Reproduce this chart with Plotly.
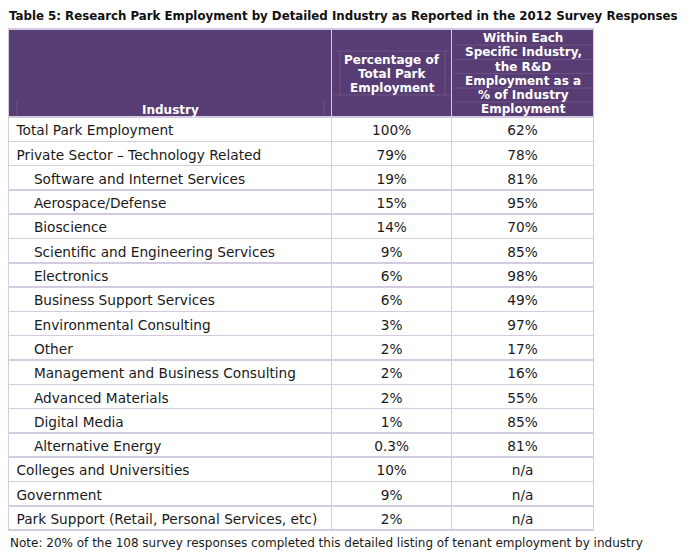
import plotly.graph_objects as go

# page body has an 8px margin; figure occupies screen (8..690, 8..560)
OFF = 8
W, H = 690 - OFF, 560 - OFF

title = "Table 5: Research Park Employment by Detailed Industry as Reported in the 2012 Survey Responses"
note = "Note: 20% of the 108 survey responses completed this detailed listing of tenant employment by industry"

hdr_industry = ["Industry"]
hdr_pct_total = ["Percentage of", "Total Park", "Employment"]
hdr_pct_rd = ["Within Each", "Specific Industry,", "the R&D", "Employment as a",
              "% of Industry", "Employment"]

industries = [
    "Total Park Employment",
    "Private Sector – Technology Related",
    "Software and Internet Services",
    "Aerospace/Defense",
    "Bioscience",
    "Scientific and Engineering Services",
    "Electronics",
    "Business Support Services",
    "Environmental Consulting",
    "Other",
    "Management and Business Consulting",
    "Advanced Materials",
    "Digital Media",
    "Alternative Energy",
    "Colleges and Universities",
    "Government",
    "Park Support (Retail, Personal Services, etc)",
]
indent_level = [0, 0, 1, 1, 1, 1, 1, 1, 1, 1, 1, 1, 1, 1, 0, 0, 0]
pct_total = ["100%", "79%", "19%", "15%", "14%", "9%", "6%", "6%", "3%", "2%",
             "2%", "2%", "1%", "0.3%", "10%", "9%", "2%"]
pct_rd = ["62%", "78%", "81%", "95%", "70%", "85%", "98%", "49%", "97%", "17%",
          "16%", "55%", "85%", "81%", "n/a", "n/a", "n/a"]

purple = "rgb(88,61,117)"
line_col = "rgb(212,203,225)"
faint = "rgba(255,255,255,0.11)"
font_fam = "Verdana, DejaVu Sans, sans-serif"

# screen coordinates of the table
x0, xc1, xc2, x1 = 8.5, 332, 452, 594
top = 29
header_h = 88
row_h = 24.3

labels = [("\u00a0" * 4 if lv else "") + name for name, lv in zip(industries, indent_level)]

fig = go.Figure(go.Table(
    domain=dict(x=[(x0 - OFF) / W, (x1 - OFF) / W], y=[0, 1 - (top - OFF) / H]),
    columnwidth=[xc1 - x0, xc2 - xc1, x1 - xc2],
    header=dict(
        values=["", "", ""],
        fill_color=purple,
        line=dict(color=line_col, width=1.5),
        height=header_h,
        font=dict(size=12, color="white", family=font_fam),
    ),
    cells=dict(
        values=[labels, pct_total, pct_rd],
        align=["left", "center", "center"],
        fill_color="white",
        line=dict(color=line_col, width=1.5),
        height=row_h,
        font=dict(size=13.7, color="#1a1a1a", family=font_fam),
    ),
))

anns = []
anns.append(dict(x=OFF, y=OFF, text="<b>" + title + "</b>", xanchor="left", yanchor="top",
                 borderpad=0, font=dict(size=11.8, color="#111111", family=font_fam)))
anns.append(dict(x=OFF, y=543, text=note, xanchor="left", yanchor="middle",
                 font=dict(size=12, color="#1a1a1a", family=font_fam)))

hfont = dict(size=12, color="white", family=font_fam)
for txt, yy in zip(hdr_industry, [109.5]):
    anns.append(dict(x=(x0 + xc1) / 2, y=yy, text="<b>" + txt + "</b>", font=hfont))
for txt, yy in zip(hdr_pct_total, [59.5, 74, 88]):
    anns.append(dict(x=(xc1 + xc2) / 2, y=yy, text="<b>" + txt + "</b>", font=hfont))
for txt, yy in zip(hdr_pct_rd, [37.7, 52.3, 66.5, 80.5, 95, 108.5]):
    anns.append(dict(x=(xc2 + x1) / 2, y=yy, text="<b>" + txt + "</b>", font=hfont))
for a in anns:
    a.setdefault("xanchor", "center")
    a.setdefault("yanchor", "middle")
    a.update(xref="x", yref="y", showarrow=False)

# faint inner borders inside the header (from the original nested layout)
shapes = []
def seg(xa, ya, xb, yb):
    shapes.append(dict(type="line", xref="x", yref="y", x0=xa, y0=ya, x1=xb, y1=yb,
                       line=dict(color=faint, width=1), layer="above"))
seg(17, 101, 17, 116)
seg(324, 101, 324, 116)
seg(334, 51, 450, 51)
seg(334, 95, 450, 95)
seg(340, 51, 340, 95)
seg(445, 51, 445, 95)
for yy in [45, 59.5, 73.5, 88, 102]:
    seg(454, yy, 592, yy)

fig.update_layout(
    width=W, height=H,
    margin=dict(l=0, r=0, t=0, b=0),
    paper_bgcolor="white", plot_bgcolor="rgba(0,0,0,0)",
    xaxis=dict(range=[OFF, OFF + W], visible=False, fixedrange=True),
    yaxis=dict(range=[OFF + H, OFF], visible=False, fixedrange=True),
    annotations=anns,
    shapes=shapes,
    showlegend=False,
)
fig.write_html("out.html")
